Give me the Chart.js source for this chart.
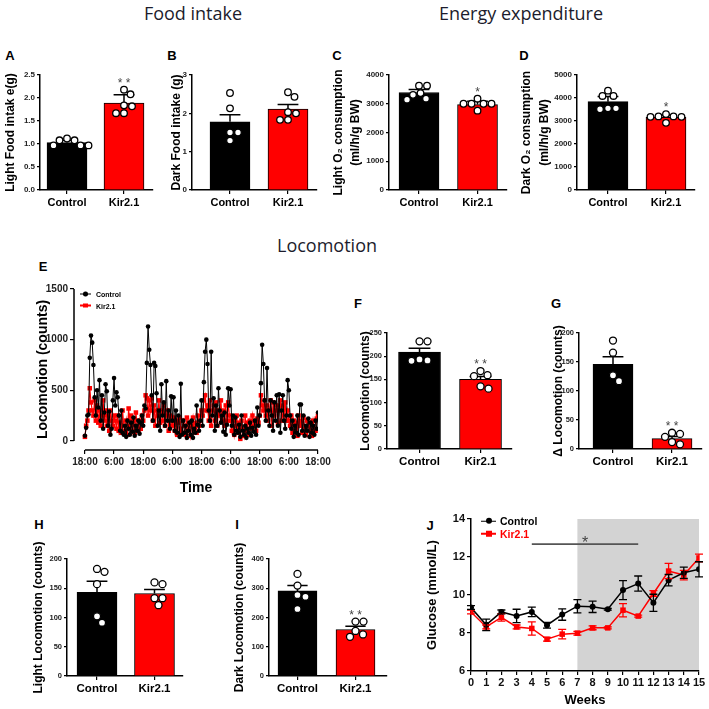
<!DOCTYPE html>
<html>
<head>
<meta charset="utf-8">
<title>Kir2.1 metabolic phenotype</title>
<script src="https://cdn.jsdelivr.net/npm/chart.js@4.4.1/dist/chart.umd.min.js"></script>
<style>
html, body { margin:0; padding:0; background:#fff; }
#fig { position:relative; width:709px; height:709px; overflow:hidden; background:#fff; font-family:"Liberation Sans", Arial, sans-serif; color:#000; }
#fig canvas { position:absolute; }
.head { position:absolute; font-family:"Open Sans", "Noto Sans", sans-serif; font-size:18px; color:#1c1c2c; white-space:nowrap; transform:translate(-50%,-50%); line-height:1; }
.tag { position:absolute; font-weight:bold; font-size:13px; transform:translate(-50%,-50%); line-height:1; }
.leg { position:absolute; display:flex; align-items:center; white-space:nowrap; font-weight:bold; transform:translateY(-50%); line-height:1; }
</style>
</head>
<body>
<div id="fig">
  <div class="head" style="left:193px;top:13px">Food intake</div>
  <div class="head" style="left:521px;top:13px">Energy expenditure</div>
  <div class="head" style="left:327px;top:245px">Locomotion</div>
  <div class="tag" style="left:10px;top:55px">A</div>
  <div class="tag" style="left:172px;top:55px">B</div>
  <div class="tag" style="left:337px;top:55px">C</div>
  <div class="tag" style="left:524px;top:55px">D</div>
  <div class="tag" style="left:43px;top:266px">E</div>
  <div class="tag" style="left:358px;top:303px">F</div>
  <div class="tag" style="left:556px;top:303px">G</div>
  <div class="tag" style="left:39px;top:524px">H</div>
  <div class="tag" style="left:237px;top:524px">I</div>
  <div class="tag" style="left:430px;top:525px">J</div>
</div>
<script>
// ===================== DATA =====================
const groups = ['Control', 'Kir2.1'];

// A - light food intake (g)
const lightFoodMean = [1.03, 1.89];
const lightFoodSem = [0.05, 0.18];
const lightFoodControl = [1.08, 0.97, 0.97, 0.97, 1.08, 1.12];
const lightFoodKir = [2.18, 2.08, 1.82, 1.67, 1.67, 1.84];
const lightFoodTicks = [0, 0.5, 1, 1.5, 2, 2.5];
const lightFoodSig = ['', '**'];

// B - dark food intake (g)
const darkFoodMean = [1.78, 2.11];
const darkFoodSem = [0.18, 0.12];
const darkFoodControl = [2.53, 2.13, 1.50, 1.50, 1.29];
const darkFoodKir = [2.55, 2.43, 2.03, 2.00, 1.83, 1.83];
const darkFoodTicks = [0, 1, 2, 3];
const darkFoodSig = ['', ''];

// C - light O2 consumption
const lightO2Mean = [3390, 2970];
const lightO2Sem = [110, 120];
const lightO2Control = [3630, 3630, 3310, 3370, 3140, 3175];
const lightO2Kir = [3175, 3000, 3000, 3000, 3000, 2760];
const lightO2Ticks = [0, 1000, 2000, 3000, 4000];
const lightO2Sig = ['', '*'];

// D - dark O2 consumption
const darkO2Mean = [3840, 3160];
const darkO2Sem = [230, 100];
const darkO2Control = [4320, 4090, 4090, 3550, 3510, 3550];
const darkO2Kir = [3300, 3200, 3180, 3200, 3180, 2920];
const darkO2Ticks = [0, 1000, 2000, 3000, 4000, 5000];
const darkO2Sig = ['', '*'];

// E - locomotion time course (counts, one value per half hour from 18:00)
const locoStepHours = 0.5;
const locoControl = [
  50,130,250,260,820,1040,970,750, 430,250,500,330,600,200,450,120,
  280,560,490,150,290,60,120,400, 620,350,480,430,250,100,300,80,
  60,150,40,200,120,60,180,90, 230,50,150,100,200,70,180,250,
  150,350,320,770,1130,900,750,450, 200,770,740,470,150,300,100,560,
  250,380,150,590,200,300,120,440, 200,430,100,300,80,250,40,565,
  60,200,80,150,30,100,180,60, 200,30,120,80,350,160,100,200,
  400,150,580,880,1000,760,300,200, 880,250,420,100,350,150,520,300,
  180,250,90,280,60,160,520,350, 510,150,250,60,230,100,80,160,
  40,250,100,60,150,30,120,80, 180,50,130,90,200,60,330,150,
  250,570,950,760,400,200,720,300, 150,400,250,100,380,200,450,150,
  460,80,300,450,200,120,250,600, 500,250,120,200,40,150,80,250,
  60,360,360,100,250,50,150,100, 220,40,180,80,150,60,200,120,
  280];
const locoKir = [
  40,150,200,300,520,380,300,250, 400,200,350,180,300,150,250,400,
  200,300,150,250,100,300,200,150, 250,200,120,250,100,180,80,300,
  150,100,200,60,320,150,250,100, 200,80,280,150,100,200,120,250,
  200,300,450,420,250,400,300,420, 200,350,150,300,250,400,180,300,
  200,350,150,250,300,100,250,200, 150,230,100,200,60,180,230,120,
  80,200,150,60,230,100,180,50, 150,230,100,180,80,250,150,200,
  300,250,400,450,300,350,200,400, 150,300,350,200,380,150,300,250,
  400,200,300,150,350,200,380,250, 200,100,200,60,150,250,80,180,
  20,200,120,50,250,100,180,60, 200,120,250,150,200,100,220,180,
  250,450,350,300,400,250,350,200, 300,400,150,380,250,300,350,180,
  300,400,200,350,250,380,200,300, 200,150,250,80,200,100,180,50,
  250,150,200,80,230,120,60,200, 150,100,180,50,200,120,100,220,
  250];
const locoTimeTicks = [0, 12, 24, 36, 48, 60, 72, 84, 96];
const locoTimeLabels = ['18:00','6:00','18:00','6:00','18:00','6:00','18:00','6:00','18:00'];
const locoCountTicks = [0, 500, 1000, 1500];

// F - locomotion (counts)
const locoAvgMean = [209, 150];
const locoAvgSem = [8, 6];
const locoAvgControl = [232, 232, 191, 190, 193];
const locoAvgKir = [159, 157, 168, 130, 135];
const locoAvgTicks = [0, 50, 100, 150, 200, 250];
const locoAvgSig = ['', '**'];

// G - delta locomotion (counts)
const deltaLocoMean = [146, 18];
const deltaLocoSem = [13, 3.5];
const deltaLocoControl = [187, 166, 127, 117];
const deltaLocoKir = [28, 26, 21, 12, 8];
const deltaLocoTicks = [0, 50, 100, 150, 200];
const deltaLocoSig = ['', '**'];

// H - light locomotion
const lightLocoMean = [143, 141];
const lightLocoSem = [19, 7];
const lightLocoControl = [178, 183, 157, 102, 91];
const lightLocoKir = [160, 157, 133, 133, 121];
const lightLocoTicks = [0, 50, 100, 150, 200];
const lightLocoSig = ['', ''];

// I - dark locomotion
const darkLocoMean = [291, 159];
const darkLocoSem = [18, 11];
const darkLocoControl = [349, 309, 277, 271, 229];
const darkLocoKir = [186, 186, 154, 142, 134];
const darkLocoTicks = [0, 100, 200, 300, 400];
const darkLocoSig = ['', '**'];

// J - glucose (mmol/L) by week
const weeks = [0,1,2,3,4,5,6,7,8,9,10,11,12,13,14,15];
const glucoseControl = [9.34, 8.43, 9.11, 8.90, 9.11, 8.41, 8.97, 9.41, 9.38, 9.25, 10.26, 10.60, 9.59, 10.78, 11.17, 11.35];
const glucoseControlSem = [0.10, 0.30, 0.10, 0.35, 0.25, 0.15, 0.30, 0.35, 0.30, 0.05, 0.50, 0.40, 0.45, 0.30, 0.30, 0.40];
const glucoseKir = [9.11, 8.32, 8.82, 8.32, 8.24, 7.67, 7.94, 7.99, 8.27, 8.27, 9.20, 8.89, 10.08, 11.26, 11.05, 11.95];
const glucoseKirSem = [0.10, 0.10, 0.20, 0.10, 0.35, 0.10, 0.25, 0.10, 0.10, 0.05, 0.35, 0.05, 0.15, 0.40, 0.25, 0.20];
const glucoseTicks = [6, 8, 10, 12, 14];
const shadedWeeks = [7, 15];
const sigWeeks = [4, 11];
const sigGlucoseLevel = 12.68;
const sigGlucoseText = '*';

// ===================== RENDERING =====================
Chart.defaults.font.family = '"Liberation Sans", Arial, sans-serif';
Chart.defaults.color = '#000';
Chart.defaults.animation = false;
Chart.defaults.responsive = false;
Chart.defaults.devicePixelRatio = 1;
Chart.defaults.events = [];
Chart.defaults.plugins.legend.display = false;
Chart.defaults.plugins.tooltip.enabled = false;

const fig = document.getElementById('fig');
const decor = {};
const RED = '#ff0000';

const decorPlugin = {
  id: 'decor',
  beforeDraw(chart) {
    const d = decor[chart.canvas.id];
    if (!d || !d.shade) return;
    const {x, y} = chart.scales, ctx = chart.ctx;
    const x0 = x.getPixelForValue(d.shade.from), x1 = x.getPixelForValue(d.shade.to);
    const y0 = y.getPixelForValue(y.max), y1 = y.getPixelForValue(y.min);
    ctx.save(); ctx.fillStyle = d.shade.color; ctx.fillRect(x0, y0, x1 - x0, y1 - y0); ctx.restore();
  },
  beforeDatasetsDraw(chart) {
    const d = decor[chart.canvas.id];
    if (!d || !d.axes) return;
    const {x, y} = chart.scales, ctx = chart.ctx, a = chart.chartArea;
    ctx.save(); ctx.strokeStyle = '#000'; ctx.lineWidth = 1.5; ctx.beginPath();
    ctx.moveTo(a.left, y.getPixelForValue(d.axes.y[0])); ctx.lineTo(a.left, y.getPixelForValue(d.axes.y[1]));
    ctx.moveTo(x.getPixelForValue(d.axes.x[0]), a.bottom); ctx.lineTo(x.getPixelForValue(d.axes.x[1]), a.bottom);
    ctx.stroke(); ctx.restore();
  },
  afterDatasetDraw(chart, args) {
    const d = decor[chart.canvas.id];
    if (!d || !d.bars || args.index !== 0) return;
    const {x, y} = chart.scales, ctx = chart.ctx, b = d.bars;
    ctx.save(); ctx.strokeStyle = '#000'; ctx.lineWidth = 1.5;
    b.mean.forEach((m, i) => {
      const px = x.getPixelForValue(i), p0 = y.getPixelForValue(m), p1 = y.getPixelForValue(m + b.sem[i]);
      ctx.beginPath(); ctx.moveTo(px, p0); ctx.lineTo(px, p1);
      ctx.moveTo(px - b.cap, p1); ctx.lineTo(px + b.cap, p1); ctx.stroke();
    });
    ctx.restore();
  },
  afterDatasetsDraw(chart) {
    const d = decor[chart.canvas.id];
    if (!d) return;
    const {x, y} = chart.scales, ctx = chart.ctx;
    ctx.save();
    if (d.bars) {
      const b = d.bars;
      ctx.fillStyle = '#444'; ctx.font = '12px "Liberation Sans", Arial, sans-serif';
      ctx.textAlign = 'center'; ctx.textBaseline = 'alphabetic';
      b.stars.forEach((s, i) => {
        if (!s) return;
        const topDot = y.getPixelForValue(Math.max(...b.dots[i]));
        const topErr = y.getPixelForValue(b.mean[i] + b.sem[i]);
        const base = Math.min(topDot - 3, topErr - 4);
        ctx.fillText(s.split('').join(' '), x.getPixelForValue(i), base);
      });
    }
    if (d.errs) {
      d.errs.forEach(e => {
        ctx.strokeStyle = e.color; ctx.lineWidth = 1.3;
        e.vals.forEach((v, i) => {
          const px = x.getPixelForValue(e.xs[i]);
          const pl = y.getPixelForValue(v - e.sem[i]), ph = y.getPixelForValue(v + e.sem[i]);
          ctx.beginPath(); ctx.moveTo(px, pl); ctx.lineTo(px, ph);
          ctx.moveTo(px - 4, pl); ctx.lineTo(px + 4, pl);
          ctx.moveTo(px - 4, ph); ctx.lineTo(px + 4, ph); ctx.stroke();
        });
      });
    }
    if (d.sig) {
      const py = y.getPixelForValue(d.sig.level);
      ctx.strokeStyle = '#555'; ctx.lineWidth = 1.6;
      ctx.beginPath(); ctx.moveTo(x.getPixelForValue(d.sig.from), py); ctx.lineTo(x.getPixelForValue(d.sig.to), py); ctx.stroke();
      ctx.fillStyle = '#444'; ctx.font = '16px "Liberation Sans", Arial, sans-serif';
      ctx.textAlign = 'center'; ctx.textBaseline = 'alphabetic';
      ctx.fillText(d.sig.text, x.getPixelForValue((d.sig.from + d.sig.to) / 2), py + 4);
    }
    ctx.restore();
  }
};
Chart.register(decorPlugin);

function placeCanvas(id, g) {
  const lh = g.titleSize * g.titleLH;
  const L = Math.round(g.titleX - lh / 2 - 2);
  const T = g.top - g.pt;
  const W = g.right + g.pr - L;
  const H = g.bottom + g.xh - T;
  const c = document.createElement('canvas');
  c.id = id; c.width = W; c.height = H;
  c.style.left = L + 'px'; c.style.top = T + 'px';
  c.style.width = W + 'px'; c.style.height = H + 'px';
  fig.appendChild(c);
  return {c, yw: g.ax - L};
}

function swarm(vals, pxY, r) {
  const minD = 2 * r + 1;
  const placed = [];
  const offs = new Array(vals.length).fill(0);
  const order = vals.map((v, i) => i).sort((a, b) => vals[b] - vals[a]);
  for (const i of order) {
    const py = vals[i] * pxY;
    for (let k = 0; k < 400; k++) {
      const dx = (k % 2 ? 1 : -1) * Math.ceil(k / 2) * 0.5;
      if (placed.every(p => (p.x - dx) ** 2 + (p.y - py) ** 2 >= minD * minD)) {
        offs[i] = dx; placed.push({x: dx, y: py}); break;
      }
    }
  }
  return offs;
}

function gridOpts(len) {
  return {display: true, offset: false, drawOnChartArea: false, drawTicks: true, tickLength: len, color: '#000', lineWidth: 1.2};
}
const borderOpts = {display: true, color: '#000', width: 1.5};

function barPanel(id, d, g) {
  const {c, yw} = placeCanvas(id, g);
  const ymin = d.ticks[0], ymax = d.ticks[d.ticks.length - 1];
  const pxY = (g.bottom - g.top) / (ymax - ymin);
  const pxX = (g.right - g.ax) / (g.xmax - g.xmin);
  const pts = [];
  d.dots.forEach((vals, gi) => {
    const offs = swarm(vals, pxY, g.r);
    vals.forEach((v, k) => pts.push({x: gi + offs[k] / pxX, y: v}));
  });
  decor[id] = {bars: {mean: d.mean, sem: d.sem, dots: d.dots, stars: d.sig, cap: g.barW * 0.26}};
  new Chart(c, {
    type: 'bar',
    data: {datasets: [
      {type: 'bar', data: d.mean.map((m, i) => ({x: i, y: m})), backgroundColor: ['#000000', RED],
       borderColor: '#000', borderWidth: 1, barThickness: g.barW, order: 2},
      {type: 'scatter', data: pts, pointRadius: g.r, pointBackgroundColor: '#fff',
       pointBorderColor: '#000', pointBorderWidth: 1.3, order: 1}
    ]},
    options: {
      layout: {padding: {left: 0, top: g.pt, right: g.pr, bottom: 0}},
      scales: {
        x: {type: 'linear', offset: false, min: g.xmin, max: g.xmax,
            afterBuildTicks: s => { s.ticks = groups.map((_, i) => ({value: i})); },
            afterFit: s => { s.height = g.xh; },
            ticks: {callback: v => groups[v], font: {weight: 'bold', size: g.catSize}, color: '#000',
                    padding: 2, autoSkip: false, maxRotation: 0, minRotation: 0},
            grid: gridOpts(4), border: borderOpts},
        y: {type: 'linear', min: ymin, max: ymax,
            afterBuildTicks: s => { s.ticks = d.ticks.map(v => ({value: v})); },
            afterFit: s => { s.width = yw; },
            ticks: {callback: v => v.toFixed(d.dec), font: {weight: 'bold', size: g.tickSize}, color: '#222',
                    padding: 2, autoSkip: false},
            grid: gridOpts(3), border: borderOpts,
            title: {display: true, text: d.title, color: '#000',
                    font: {weight: 'bold', size: g.titleSize, lineHeight: g.titleLH}, padding: {top: 2, bottom: 0}}}
      }
    }
  });
}

const topRow = {top: 75, bottom: 190, barW: 40, r: 3.3, titleSize: 12, titleLH: 1.2, tickSize: 8, catSize: 11, pt: 25, pr: 6, xh: 28};
const midRow = {top: 333, bottom: 449, barW: 40, r: 3.5, titleSize: 12, titleLH: 1.2, tickSize: 7.5, catSize: 11.5, pt: 25, pr: 6, xh: 28};
const lowRow = {top: 559, bottom: 676, barW: 40, r: 3.5, titleSize: 12, titleLH: 1.2, tickSize: 7.5, catSize: 11.5, pt: 25, pr: 6, xh: 28};

barPanel('cA', {mean: lightFoodMean, sem: lightFoodSem, dots: [lightFoodControl, lightFoodKir], ticks: lightFoodTicks,
  dec: 1, sig: lightFoodSig, title: 'Light Food intak e(g)'},
  Object.assign({}, topRow, {titleX: 10, ax: 40, right: 153, xmin: -0.474, xmax: 1.509}));
barPanel('cB', {mean: darkFoodMean, sem: darkFoodSem, dots: [darkFoodControl, darkFoodKir], ticks: darkFoodTicks,
  dec: 0, sig: darkFoodSig, title: 'Dark Food intake (g)'},
  Object.assign({}, topRow, {titleX: 176, ax: 192, right: 317, xmin: -0.655, xmax: 1.5}));
barPanel('cC', {mean: lightO2Mean, sem: lightO2Sem, dots: [lightO2Control, lightO2Kir], ticks: lightO2Ticks,
  dec: 0, sig: lightO2Sig, title: ['Light O\u2082 consumption', '(ml/h/g BW)']},
  Object.assign({}, topRow, {titleX: 339, ax: 389, right: 507, xmin: -0.513, xmax: 1.504, titleLH: 1.35}));
barPanel('cD', {mean: darkO2Mean, sem: darkO2Sem, dots: [darkO2Control, darkO2Kir], ticks: darkO2Ticks,
  dec: 0, sig: darkO2Sig, title: ['Dark O\u2082 consumption', '(ml/h/g BW)']},
  Object.assign({}, topRow, {titleX: 526, ax: 577, right: 695, xmin: -0.534, xmax: 1.5, titleLH: 1.55}));
barPanel('cF', {mean: locoAvgMean, sem: locoAvgSem, dots: [locoAvgControl, locoAvgKir], ticks: locoAvgTicks,
  dec: 0, sig: locoAvgSig, title: 'Locomotion (counts)'},
  Object.assign({}, midRow, {titleX: 365, ax: 387, right: 512, xmin: -0.533, xmax: 1.516, barW: 42}));
barPanel('cG', {mean: deltaLocoMean, sem: deltaLocoSem, dots: [deltaLocoControl, deltaLocoKir], ticks: deltaLocoTicks,
  dec: 0, sig: deltaLocoSig, title: '\u0394 Locomotion (counts)'},
  Object.assign({}, midRow, {titleX: 558, ax: 579, right: 702, xmin: -0.576, xmax: 1.508}));
barPanel('cH', {mean: lightLocoMean, sem: lightLocoSem, dots: [lightLocoControl, lightLocoKir], ticks: lightLocoTicks,
  dec: 0, sig: lightLocoSig, title: 'Light Locomotion (counts)'},
  Object.assign({}, lowRow, {titleX: 38, ax: 67, right: 183, xmin: -0.522, xmax: 1.496}));
barPanel('cI', {mean: darkLocoMean, sem: darkLocoSem, dots: [darkLocoControl, darkLocoKir], ticks: darkLocoTicks,
  dec: 0, sig: darkLocoSig, title: 'Dark Locomotion (counts)'},
  Object.assign({}, lowRow, {titleX: 239, ax: 269, right: 387, xmin: -0.491, xmax: 1.543, barW: 39}));

// ---------- E: time course ----------
(function () {
  const g = {titleX: 43, ax: 74, top: 289, bottom: 450, right: 318, pt: 20, pr: 20, xh: 47, titleSize: 14, titleLH: 1.2};
  const {c, yw} = placeCanvas('cE', g);
  decor.cE = {axes: {x: [locoTimeTicks[0], locoTimeTicks[locoTimeTicks.length - 1]],
                     y: [locoCountTicks[0], locoCountTicks[locoCountTicks.length - 1]]}};
  const toPts = arr => arr.map((v, i) => ({x: i * locoStepHours, y: v}));
  new Chart(c, {
    type: 'scatter',
    data: {datasets: [
      {label: groups[0], data: toPts(locoControl), showLine: true, borderColor: '#000', borderWidth: 1,
       pointRadius: 2.3, pointBackgroundColor: '#000', pointBorderWidth: 0, order: 1},
      {label: groups[1], data: toPts(locoKir), showLine: true, borderColor: RED, borderWidth: 1.2,
       pointStyle: 'rect', pointRadius: 3.2, pointBackgroundColor: RED, pointBorderWidth: 0, order: 2}
    ]},
    options: {
      layout: {padding: {left: 0, top: g.pt, right: g.pr, bottom: 0}},
      scales: {
        x: {type: 'linear', min: -4.5, max: locoTimeTicks[locoTimeTicks.length - 1],
            afterBuildTicks: s => { s.ticks = locoTimeTicks.map(v => ({value: v})); },
            afterFit: s => { s.height = g.xh; },
            ticks: {callback: (v, i) => locoTimeLabels[i], font: {weight: 'bold', size: 10}, color: '#222',
                    padding: 2, autoSkip: false, maxRotation: 0, minRotation: 0},
            grid: gridOpts(4), border: {display: false},
            title: {display: true, text: 'Time', color: '#000', font: {weight: 'bold', size: 14}, padding: {top: 0, bottom: 0}}},
        y: {type: 'linear', min: -90, max: locoCountTicks[locoCountTicks.length - 1],
            afterBuildTicks: s => { s.ticks = locoCountTicks.map(v => ({value: v})); },
            afterFit: s => { s.width = yw; },
            ticks: {callback: v => String(v), font: {weight: 'bold', size: 10}, color: '#222', padding: 2, autoSkip: false},
            grid: gridOpts(4), border: {display: false},
            title: {display: true, text: 'Locomotion (counts)', color: '#000',
                    font: {weight: 'bold', size: 14, lineHeight: 1.2}, padding: {top: 2, bottom: 0}}}
      }
    }
  });
})();

// ---------- J: glucose ----------
(function () {
  const g = {titleX: 433, ax: 471, top: 519, bottom: 671, right: 699, pt: 20, pr: 10, xh: 37, titleSize: 13, titleLH: 1.2};
  const {c, yw} = placeCanvas('cJ', g);
  decor.cJ = {
    shade: {from: shadedWeeks[0], to: shadedWeeks[1], color: '#d3d3d3'},
    errs: [{xs: weeks, vals: glucoseKir, sem: glucoseKirSem, color: RED},
           {xs: weeks, vals: glucoseControl, sem: glucoseControlSem, color: '#000'}],
    sig: {from: sigWeeks[0], to: sigWeeks[1], level: sigGlucoseLevel, text: sigGlucoseText}
  };
  const pts = arr => weeks.map((w, i) => ({x: w, y: arr[i]}));
  new Chart(c, {
    type: 'scatter',
    data: {datasets: [
      {label: groups[0], data: pts(glucoseControl), showLine: true, borderColor: '#000', borderWidth: 1.5,
       pointRadius: 3, pointBackgroundColor: '#000', pointBorderColor: '#000', pointBorderWidth: 0, order: 1},
      {label: groups[1], data: pts(glucoseKir), showLine: true, borderColor: RED, borderWidth: 1.5,
       pointStyle: 'rect', pointRadius: 3.9, pointBackgroundColor: RED, pointBorderColor: RED, pointBorderWidth: 0, order: 2}
    ]},
    options: {
      layout: {padding: {left: 0, top: g.pt, right: g.pr, bottom: 0}},
      scales: {
        x: {type: 'linear', min: weeks[0], max: weeks[weeks.length - 1],
            afterBuildTicks: s => { s.ticks = weeks.map(v => ({value: v})); },
            afterFit: s => { s.height = g.xh; },
            ticks: {font: {weight: 'bold', size: 11}, color: '#111', padding: 1, autoSkip: false, maxRotation: 0, minRotation: 0},
            grid: gridOpts(4), border: borderOpts,
            title: {display: true, text: 'Weeks', color: '#000', font: {weight: 'bold', size: 13}, padding: {top: 0, bottom: 0}}},
        y: {type: 'linear', min: glucoseTicks[0], max: glucoseTicks[glucoseTicks.length - 1],
            afterBuildTicks: s => { s.ticks = glucoseTicks.map(v => ({value: v})); },
            afterFit: s => { s.width = yw; },
            ticks: {font: {weight: 'bold', size: 11}, color: '#111', padding: 2, autoSkip: false},
            grid: gridOpts(4), border: borderOpts,
            title: {display: true, text: 'Glucose (mmol/L)', color: '#000',
                    font: {weight: 'bold', size: 13, lineHeight: 1.2}, padding: {top: 2, bottom: 0}}}
      }
    }
  });
})();

// ---------- legends ----------
function legendRow(x, y, text, color, shape, o) {
  const row = document.createElement('div');
  row.className = 'leg';
  row.style.left = x + 'px'; row.style.top = y + 'px';
  row.style.fontSize = o.font + 'px'; row.style.color = o.textColor || '#000';
  const mk = document.createElement('span');
  mk.style.cssText = `position:relative;display:inline-block;width:${o.w}px;height:${o.s + 2}px;margin-right:${o.gap}px;`;
  const ln = document.createElement('span');
  ln.style.cssText = `position:absolute;left:0;right:0;top:50%;height:${o.lw}px;margin-top:${-o.lw / 2}px;background:${color};`;
  const dt = document.createElement('span');
  dt.style.cssText = `position:absolute;left:50%;top:50%;width:${o.s}px;height:${o.s}px;margin-left:${-o.s / 2}px;margin-top:${-o.s / 2}px;background:${color};border-radius:${shape === 'circle' ? '50%' : '0'};`;
  mk.append(ln, dt);
  row.append(mk, document.createTextNode(text));
  fig.appendChild(row);
}
legendRow(80, 294, groups[0], '#000', 'circle', {font: 7, w: 11, s: 4.5, lw: 1.2, gap: 5});
legendRow(80, 305.5, groups[1], RED, 'rect', {font: 7, w: 11, s: 4.5, lw: 1.2, gap: 5});
legendRow(481, 521, groups[0], '#000', 'circle', {font: 10.5, w: 15, s: 6, lw: 1.5, gap: 4});
legendRow(481, 533.5, groups[1], RED, 'rect', {font: 10.5, w: 15, s: 6, lw: 1.5, gap: 4, textColor: RED});
</script>
</body>
</html>
